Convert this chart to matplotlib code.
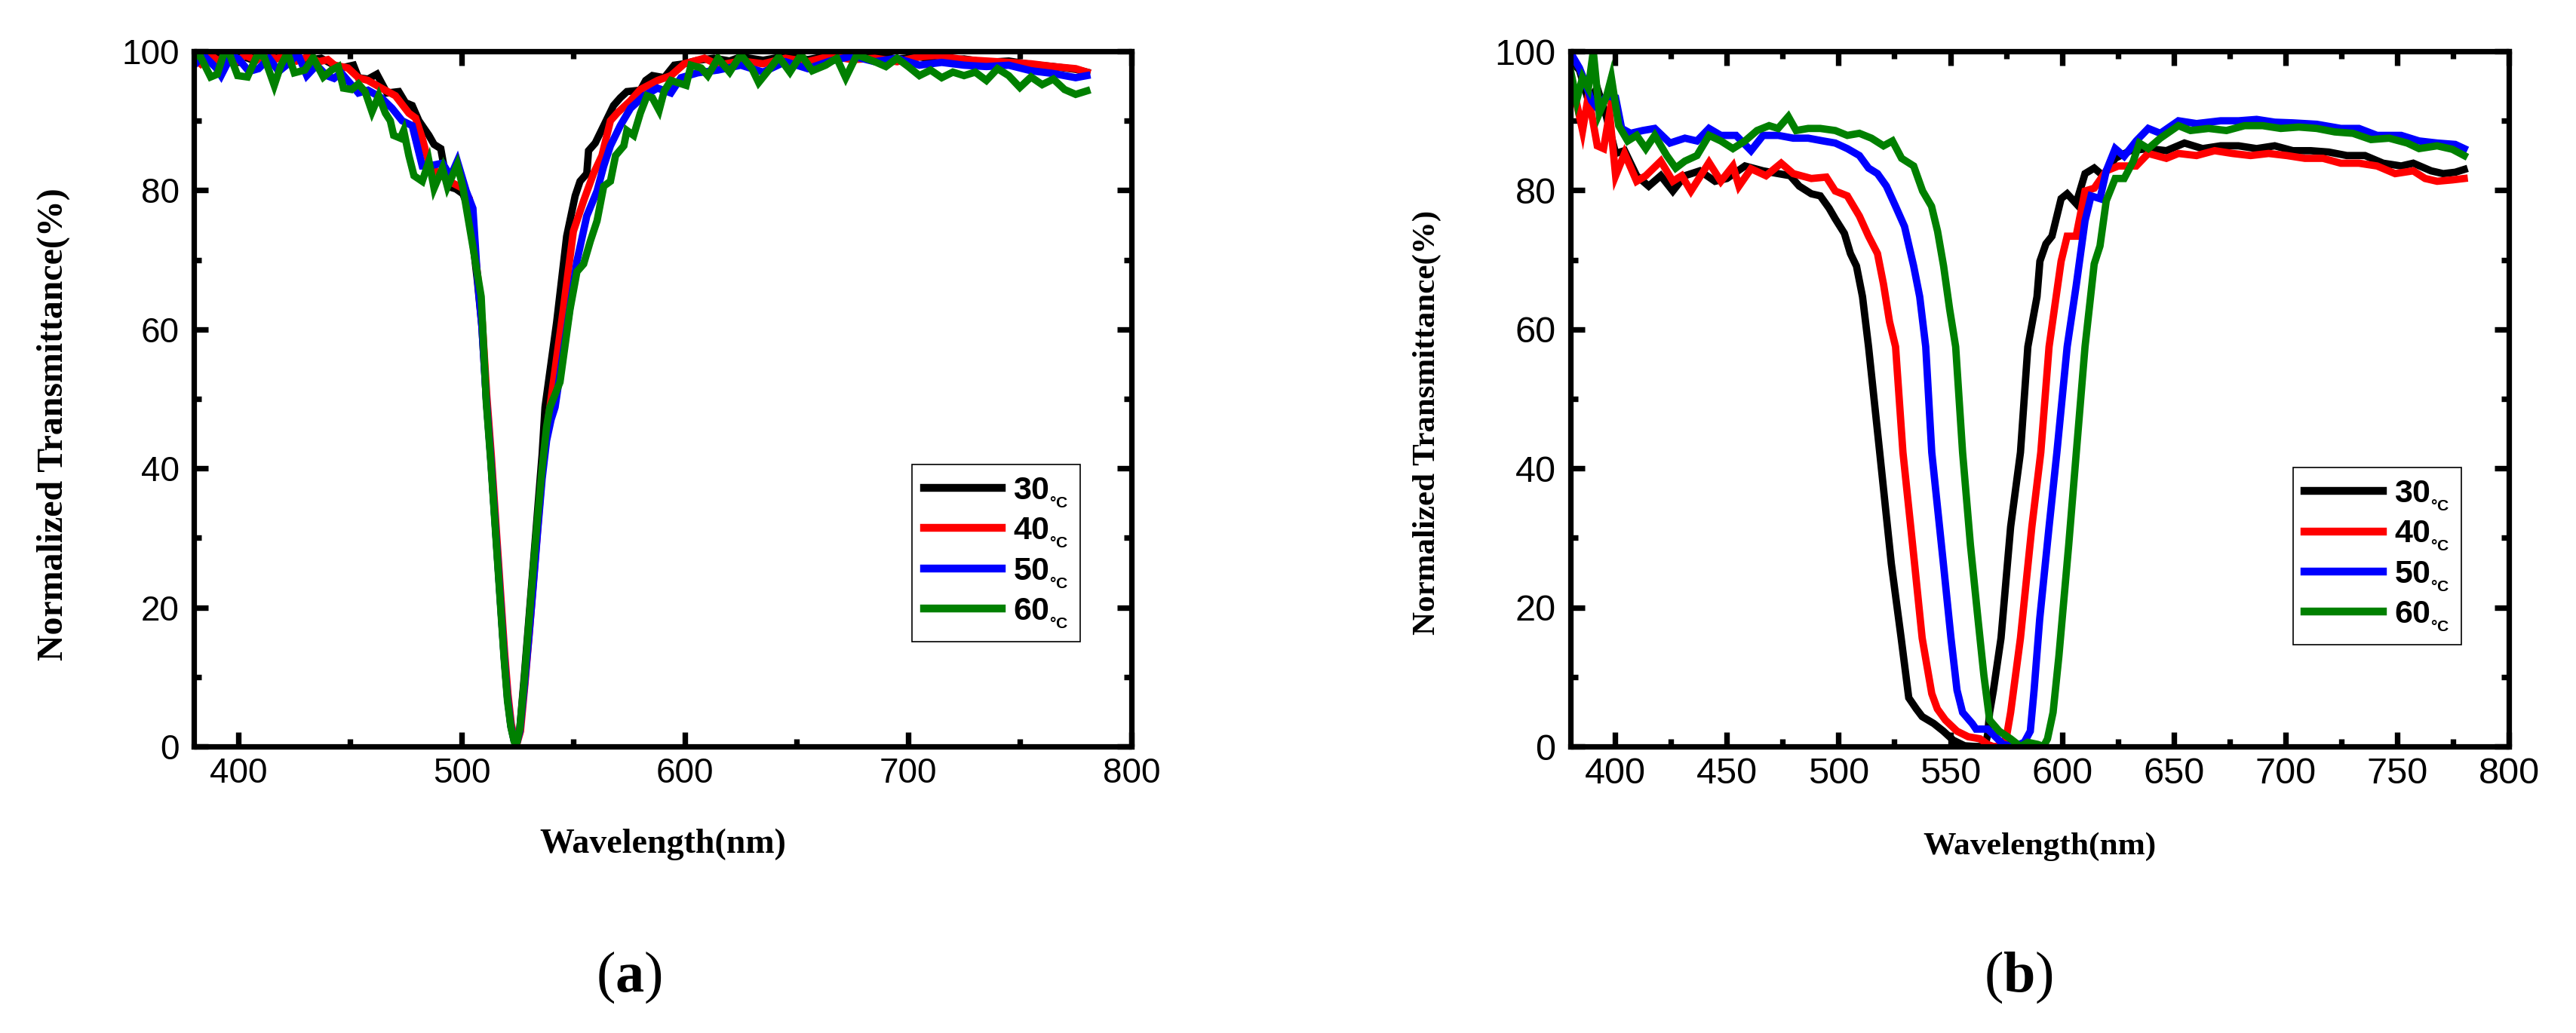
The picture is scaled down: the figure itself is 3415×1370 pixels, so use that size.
import matplotlib
matplotlib.use("Agg")
import matplotlib.pyplot as plt
from matplotlib.ticker import MultipleLocator

plt.rcParams["mathtext.fontset"] = "custom"
plt.rcParams["mathtext.rm"] = "Liberation Serif"
plt.rcParams["mathtext.bf"] = "Liberation Serif:bold"
plt.rcParams["mathtext.sf"] = "Liberation Sans:bold"

LABELS = ["30", "40", "50", "60"]
COLORS = ["#000000", "#ff0000", "#0000ff", "#008000"]

# ---------------------------------------------------------------- panel (a)
A30_NM = [380, 384, 388, 392, 396, 400, 405, 410, 415, 420, 425, 431, 437, 441.7, 446, 451.5,
          453.7, 458, 462, 466.5, 471.8, 474.8, 477.8, 480.8, 485.3, 487.6, 490.6, 492, 494.4,
          497.4, 500.5, 503, 505, 507, 509, 511, 513, 515, 517, 519, 520.5, 522, 523.5, 524.5,
          526, 528, 530, 532, 534, 536, 537.3, 542.5, 547, 550.8, 553, 556, 556.8, 559.8, 563.6,
          568, 571, 574, 580, 582.4, 585.4, 590.7, 595.2, 599.7, 605.7, 613, 620, 625, 635, 645,
          655, 665, 675, 685, 695, 705, 715, 725, 735, 745, 755, 765, 775, 780]
A30_T = [98.5, 99.6, 99.0, 99.7, 98.8, 99.5, 98.9, 99.6, 99.0, 99.7, 99.2, 98.7, 99.0, 98.2, 97.6, 98.0,
         96.2, 96.0, 96.7, 94.0, 94.2, 92.6, 92.2, 90.0, 87.9, 86.6, 86.0, 83.5, 80.5,
         80.2, 79.5, 77.5, 72.5, 67.0, 60.5, 50.0, 41.5, 32.0, 22.5, 13.0, 7.0, 3.0, 0.8, 0.3,
         2.5, 10.0, 18.0, 26.0, 34.0, 42.0, 48.8, 61.0, 73.4, 79.2, 81.3, 82.4, 85.7, 86.8, 89.3,
         92.2, 93.3, 94.2, 94.4, 95.8, 96.5, 96.2, 98.0, 98.2, 98.7, 99.0, 98.6, 99.2, 98.7, 99.3,
         98.8, 99.4, 99.0, 99.5, 98.9, 99.2, 98.7, 98.9, 98.4, 98.6, 98.1, 97.8, 97.4, 97.0]

A40_NM = [380, 383, 387, 391, 395, 399, 403, 408, 412, 417, 421, 426, 431, 436, 440, 443, 449,
          453.7, 458, 464, 470.3, 476.3, 479.3, 482.3, 485.3, 488.3, 494.4, 500.4, 503.4, 505.2,
          507.2, 509.2, 511.2, 513.2, 515.2, 517.2, 519.2, 520.7, 522.2, 523.7, 524.7, 526.3,
          528.3, 530.3, 532.3, 534.3, 536.3, 538.3, 539.5, 545.5, 550, 554.6, 559, 562.8, 566.6,
          569.6, 575.6, 580, 587.7, 593.7, 599.7, 608.7, 615, 625, 635, 645, 655, 665, 675, 685,
          695, 705, 712, 725, 735, 745, 755, 765, 775, 780]
A40_T = [99.0, 98.2, 99.6, 98.6, 99.7, 98.5, 99.4, 98.7, 99.6, 98.9, 99.5, 98.6, 99.2, 98.5, 98.8, 98.0, 97.6,
         96.2, 95.8, 94.7, 93.6, 91.1, 90.4, 87.5, 83.9, 82.8, 81.3, 80.3, 78.8, 73.0,
         67.5, 61.0, 50.5, 42.0, 32.5, 23.0, 13.5, 7.5, 3.2, 1.0, 0.4, 2.2,
         9.0, 16.5, 24.5, 32.5, 40.5, 46.0, 48.8, 62.9, 74.1, 78.5, 82.4, 85.0, 90.0,
         91.1, 92.9, 94.5, 95.8, 96.5, 98.2, 99.0, 98.0, 98.6, 98.2, 99.0, 98.5, 99.3, 98.8, 99.0,
         98.5, 99.2, 99.4, 98.8, 98.6, 98.4, 98.2, 97.8, 97.5, 97.0]

A50_NM = [380, 381, 384.4, 390, 392.2, 396.8, 400, 404.7, 409, 413.7, 418, 422.6, 426.6, 430.6,
          435, 439.5, 442.8, 446, 453.7, 458, 464, 468.8, 473.3, 477.8, 482.3, 485.3, 491.4, 495,
          498, 502, 505, 507, 509, 511, 513, 515, 517, 519, 520.5, 522, 523.5, 524.5, 526, 528,
          530, 532, 534, 536, 538, 540, 541.8, 547, 551.6, 556, 560.6, 563.6, 566.6, 571, 575.6,
          581.7, 587.7, 593.7, 598.2, 605.7, 614.8, 625, 635, 645, 655, 665, 675, 685, 695, 705,
          715, 725, 735, 745, 755, 765, 775, 780]
A50_T = [98.5, 98.3, 99.4, 97.6, 96.5, 99.4, 98.9, 97.1, 97.5, 99.0, 97.1, 98.3, 99.6, 96.5,
         98.0, 96.5, 96.1, 96.9, 94.0, 94.4, 93.3, 91.8, 90.0, 89.3, 83.5, 83.5, 83.9, 82.0,
         84.2, 79.9, 77.4, 67.5, 60.5, 50.0, 41.5, 32.0, 22.5, 13.0, 7.0, 3.0, 0.8, 0.3, 2.2, 8.5,
         15.5, 23.0, 31.0, 38.5, 44.0, 47.0, 48.8, 60.0, 69.8, 76.3, 79.9, 83.5, 86.4, 89.3, 91.8,
         93.6, 94.7, 94.0, 96.2, 96.9, 97.3, 98.0, 97.0, 98.5, 97.5, 98.6, 99.3, 98.5, 99.0, 98.0,
         98.4, 98.0, 97.8, 98.0, 97.2, 96.8, 96.2, 96.5]

A60_NM = [380, 383, 387.5, 390.5, 393.5, 396, 399.6, 404, 408.6, 411.6, 416, 419, 422, 425, 429.7,
          433.4, 438, 441.7, 444.7, 447, 450.7, 453.7, 456.7, 459.8, 462.8, 465.8, 468, 469.5,
          472.5, 474, 476.3, 478.6, 482.3, 485.3, 487.6, 491.4, 493.6, 498, 500.4, 505, 508.7,
          511, 513, 515, 517, 519, 520.5, 522, 523.5, 524.5, 526, 528, 530, 532, 534, 536, 538,
          539.5, 544, 548.5, 551.6, 554.6, 557.6, 560.6, 563.6, 566.6, 568.9, 572.6, 574, 577,
          580, 583, 585.4, 588.4, 590.7, 593.7, 600.5, 602.7, 607.2, 610.2, 614.8, 620, 625, 630,
          633, 638, 642, 647, 652, 657, 663, 668, 672, 677, 685, 690, 695, 700, 705, 710, 715,
          720, 725, 730, 735, 740, 745, 750, 755, 760, 765, 770, 775, 780]
A60_T = [99.6, 99.2, 96.3, 96.7, 99.8, 99.6, 96.5, 96.3, 99.6, 99.1, 95.1, 98.0, 99.8, 96.9, 97.3,
         99.1, 96.3, 97.3, 97.8, 94.7, 94.5, 95.3, 94.2, 91.3, 93.6, 91.1, 90.0, 87.9,
         87.5, 88.6, 85.0, 82.1, 81.3, 84.2, 80.3, 83.2, 80.5, 83.7, 80.6, 71.9, 64.7,
         49.5, 41.0, 31.5, 22.0, 12.5, 6.5, 2.8, 0.7, 0.3, 2.5, 9.5, 17.5, 25.5, 33.0, 40.0, 46.0,
         48.8, 52.4, 62.9, 68.3, 69.4, 72.7, 75.6, 80.6, 81.3, 85.0, 86.4, 88.6, 87.9,
         91.1, 93.6, 93.3, 91.5, 94.3, 95.8, 95.1, 98.0, 97.6, 96.5, 99.0, 97.0, 99.5, 97.5,
         95.5, 97.5, 99.2, 97.0, 99.5, 97.2, 98.0, 99.0, 96.2, 99.5, 98.5, 97.8, 99.0, 97.8, 96.5, 97.3, 96.2,
         97.0, 96.5, 97.0, 95.8, 97.5, 96.5, 94.8, 96.3, 95.2, 96.0, 94.5, 93.8, 94.3]

# ---------------------------------------------------------------- panel (b)
B30_NM = [380, 384, 388, 392, 396, 400.2, 404.2, 409.6, 415, 420.4, 425.8, 431.2, 437.9, 444.7, 450,
          458.1, 466.2, 473, 478.3, 482.4, 487.8, 491.8, 495.8, 498.5, 502.6, 505.3, 508, 510.7,
          513.4, 518.4, 523.6, 528, 531.4, 534.8, 537.4, 542.6, 546.9, 551.3, 556.4, 561, 565.5,
          566.7, 567.6, 569.3, 572.7, 577, 581.4, 584.7, 588.8, 590.1, 592.8, 595.5, 599.6, 602.3,
          606.3, 610.3, 614.4, 618.4, 623.8, 630.5, 638.6, 646.7, 654.8, 662.9, 671, 679, 687.1,
          695.2, 703.3, 711.3, 719.4, 727.5, 735.6, 743.7, 751.8, 757.2, 765.2, 770.6, 776, 780]
B30_T = [98.7, 97.3, 92.9, 94.7, 90.7, 85.3, 85.7, 82.1, 80.6, 82.1, 79.9, 82.1, 82.8, 81.3, 81.7,
         83.5, 82.8, 82.4, 82.1, 80.6, 79.5, 79.2, 77.4, 75.9, 73.8, 70.9, 69.1, 64.7,
         57.5, 42.3, 26.3, 15.6, 7.0, 5.4, 4.3, 3.3, 2.2, 0.9, 0.1, 0.0, 0.0,
         1.7, 4.9, 8.1, 15.6, 31.6, 42.3, 57.5, 64.7, 69.8, 72.3, 73.4, 78.8, 79.5,
         78.1, 82.4, 83.2, 82.1, 84.6, 85.7, 86.0, 85.7, 86.8, 86.0, 86.4, 86.4, 86.0,
         86.4, 85.7, 85.7, 85.5, 85.0, 85.0, 83.9, 83.5, 83.9, 82.8, 82.4, 82.6, 83.0]

B40_NM = [380, 382.7, 385.4, 388, 392, 394.8, 397.5, 400.2, 404.2, 409.6, 413.7, 420.4, 425.8,
          429.8, 433.9, 442, 447.3, 452.7, 455.4, 460.8, 467.5, 474.3, 479.7, 487.8, 494.5, 498.5,
          503.9, 509.3, 513.4, 517.4, 520.1, 522.8, 525.5, 528.8, 534, 537.4, 541.7, 544.2, 547.8,
          553, 558, 563.3, 566.7, 569.2, 572, 573.6, 575.3, 577, 581.4, 586.5, 590.5, 594.2, 599.6,
          602.3, 606.3, 610.3, 614.4, 619.8, 625.2, 633.2, 638.6, 646.7, 652.1, 660.2, 668.3,
          676.3, 684.4, 692.5, 700.6, 708.7, 716.8, 724.8, 732.9, 741, 749.1, 757.2, 762.5, 767.9,
          774.7, 780]
B40_T = [96.2, 92.6, 88.6, 93.6, 86.4, 86.0, 91.1, 82.1, 85.3, 81.3, 82.1, 84.2, 81.3,
         82.1, 79.9, 84.0, 81.3, 83.5, 80.6, 83.1, 82.1, 83.9, 82.4, 81.7, 81.9, 79.9,
         79.2, 76.3, 73.4, 70.9, 66.5, 61.1, 57.5, 42.3, 26.3, 15.6, 7.6, 5.4, 3.8,
         2.2, 1.4, 1.1, 0.3, 0.0, 0.0, 0.1, 1.7, 4.9, 15.6, 31.6, 42.3, 57.5, 69.8,
         73.4, 73.4, 79.9, 80.3, 82.8, 83.5, 83.5, 85.3, 84.6, 85.3, 85.0, 85.7,
         85.3, 85.0, 85.3, 85.0, 84.6, 84.6, 83.9, 83.9, 83.5, 82.4, 82.8, 81.7, 81.3,
         81.5, 81.7]

B50_NM = [380, 384, 386.7, 389.4, 392.1, 396.2, 400.2, 402.9, 406.9, 412.3, 417.7, 424.5, 431.2,
          436.6, 442, 447.3, 454.1, 460.8, 466.2, 473, 479.7, 486.4, 493.1, 498.5, 503.9, 509.3,
          513.4, 517.4, 521.4, 525.5, 529.5, 533.6, 536.3, 539, 541.7, 546.9, 550.3, 553, 555.5,
          559.8, 561.5, 566.7, 570.2, 573.6, 578.6, 583.1, 585.8, 587.5, 590, 594.2, 597.7, 602.3,
          606.3, 610.3, 613, 617, 619.8, 623.8, 627.8, 633.2, 638.6, 644, 652.1, 660.2, 671, 679,
          687.1, 695.2, 703.3, 714, 724.8, 732.9, 741, 751.8, 759.8, 767.9, 776, 780]
B50_T = [99.8, 97.6, 95.4, 92.9, 91.8, 93.6, 93.3, 88.9, 88.2, 88.6, 88.9, 86.8, 87.5,
         87.1, 88.9, 87.9, 87.9, 85.7, 87.9, 87.9, 87.5, 87.5, 87.1, 86.8, 86.0, 85.0,
         83.2, 82.4, 80.6, 77.7, 74.8, 69.1, 64.7, 57.5, 42.3, 26.3, 15.6, 8.1, 4.9,
         3.3, 2.5, 2.5, 1.4, 0.3, 0.0, 0.6, 2.2, 8.1, 18.3, 31.6, 42.3, 57.5,
         66.2, 75.6, 79.2, 78.8, 82.8, 86.0, 84.9, 87.1, 88.9, 88.2, 90.0, 89.6, 90.0, 90.0,
         90.2, 89.8, 89.7, 89.5, 88.9, 88.9, 87.9, 87.9, 87.1, 86.8, 86.6, 86.0]

B60_NM = [380, 382.7, 385.4, 388, 390.2, 392.9, 396.2, 398.3, 401.6, 405.6, 409.6, 413.7, 417.7,
          423.1, 427.1, 431.2, 436.6, 442, 447.3, 452.7, 458.1, 463.5, 468.9, 472.9, 477.5, 481,
          486.4, 491.8, 498.5, 503.9, 509.3, 514.7, 520.1, 524.1, 528.2, 533.6, 537.6, 541.6,
          544.3, 547, 549.7, 552.4, 555.5, 559, 562.4, 565, 567.6, 571.9, 577, 581.4, 584.7,
          589.1, 591.7, 593.5, 596, 598.6, 603, 606.4, 610.3, 614.4, 617, 619.8, 623.8, 627.8,
          631.9, 634.6, 638.6, 644, 652.1, 657.5, 665.6, 673.6, 681.7, 689.8, 697.9, 706, 714,
          722.1, 730.2, 738.3, 746.4, 754.5, 759.8, 767.9, 774.7, 780]
B60_T = [97.3, 92.9, 96.2, 94.7, 100.0, 91.1, 93.6, 96.2, 89.3, 87.1, 87.9, 86.0, 87.9,
         85.0, 83.2, 84.2, 85.0, 87.9, 87.1, 86.0, 87.1, 88.6, 89.3, 88.9, 90.6, 88.6,
         88.9, 88.9, 88.6, 87.9, 88.2, 87.5, 86.4, 87.1, 84.6, 83.5, 79.9, 77.7,
         74.1, 69.1, 62.9, 57.5, 42.3, 29.0, 18.3, 10.3, 3.8, 2.2, 1.1, 0.0, 0.6,
         0.3, 0.0, 1.1, 4.9, 13.0, 29.0, 42.3, 57.5, 69.4, 72.0, 78.5, 81.7, 81.7,
         84.2, 86.8, 86.0, 87.5, 89.3, 88.6, 88.9, 88.6, 89.3, 89.3, 88.9, 89.1, 88.9,
         88.4, 88.2, 87.3, 87.5, 86.8, 86.0, 86.4, 85.9, 85.0]

PANELS = [
    ([A30_NM, A40_NM, A50_NM, A60_NM], [A30_T, A40_T, A50_T, A60_T]),
    ([B30_NM, B40_NM, B50_NM, B60_NM], [B30_T, B40_T, B50_T, B60_T]),
]

SERIF = ["Liberation Serif", "DejaVu Serif"]
SANS = ["Liberation Sans", "DejaVu Sans"]
NARROW = ["Liberation Sans Narrow", "Liberation Sans", "DejaVu Sans"]

fig = plt.figure(figsize=(34.15, 13.7), dpi=100, facecolor="white")

# panel geometry in figure pixels: (left, right), shared top/bottom
W, H = 3415, 1370
boxes = [(257, 1500), (2082, 3326)]
top_px, bot_px = 68, 990

# per-panel text tweaks (b was pasted at a slightly different scale)
cfg = [
    dict(tick=33, ylab=34.5, ylab_x=-0.150, ylab_y=0.464, xlab=33, xlab_y=-0.141,
         minor_x=50, major_x=100, leg=(0.945, 0.4056), tag="a", tag_x=834),
    dict(tick=35, ylab=31, ylab_x=-0.153, ylab_y=0.466, xlab=31.3, xlab_y=-0.144,
         minor_x=25, major_x=50, leg=(0.949, 0.401), tag="b", tag_x=2676),
]

for (l, r), (xs, ys), c in zip(boxes, PANELS, cfg):
    ax = fig.add_axes([l / W, 1 - bot_px / H, (r - l) / W, (bot_px - top_px) / H])
    for nm, t, col, lab in zip(xs, ys, COLORS, LABELS):
        ax.plot(nm, t, color=col, lw=7, solid_joinstyle="miter",
                label=lab + r"$_{\mathsf{{}_{°C}}}$")

    ax.set_xlim(380, 800)
    ax.set_ylim(0, 100)
    ax.xaxis.set_major_locator(MultipleLocator(c["major_x"]))
    ax.xaxis.set_minor_locator(MultipleLocator(c["minor_x"]))
    ax.yaxis.set_major_locator(MultipleLocator(20))
    ax.yaxis.set_minor_locator(MultipleLocator(10))
    for s in ax.spines.values():
        s.set_linewidth(5.2)
    ax.tick_params(which="both", direction="in", top=True, right=True, width=5.3)
    ax.tick_params(which="major", length=13.5)
    ax.tick_params(which="minor", length=7)
    ax.tick_params(axis="x", pad=10)
    ax.tick_params(axis="y", pad=14)
    for lbl in ax.get_xticklabels() + ax.get_yticklabels():
        lbl.set_fontfamily(SANS)
        lbl.set_fontsize(c["tick"])

    ax.text(c["ylab_x"], c["ylab_y"], "Normalized Transmittance(%)", transform=ax.transAxes,
            rotation=90, ha="center", va="center", fontsize=c["ylab"],
            fontweight="bold", family=SERIF)
    ax.text(0.5, c["xlab_y"], "Wavelength(nm)", transform=ax.transAxes,
            ha="center", va="center", fontsize=c["xlab"], fontweight="bold", family=SERIF)

    leg = ax.legend(loc="upper right", bbox_to_anchor=c["leg"], borderaxespad=0,
                    frameon=True, fancybox=False, framealpha=1, edgecolor="black",
                    handlelength=2.4, handletextpad=0.35, labelspacing=0.2, borderpad=0.35,
                    prop=dict(family=NARROW, weight="bold", size=31))
    leg.get_frame().set_linewidth(1.2)
    for h in leg.get_lines():
        h.set_linewidth(7.5)

    fig.text(c["tag_x"] / W, 1 - 1296 / H, "(" + r"$\mathbf{" + c["tag"] + r"}$" + ")",
             ha="center", va="center", fontsize=55, family=SERIF)

fig.savefig("out.png", dpi=100, facecolor="white")
